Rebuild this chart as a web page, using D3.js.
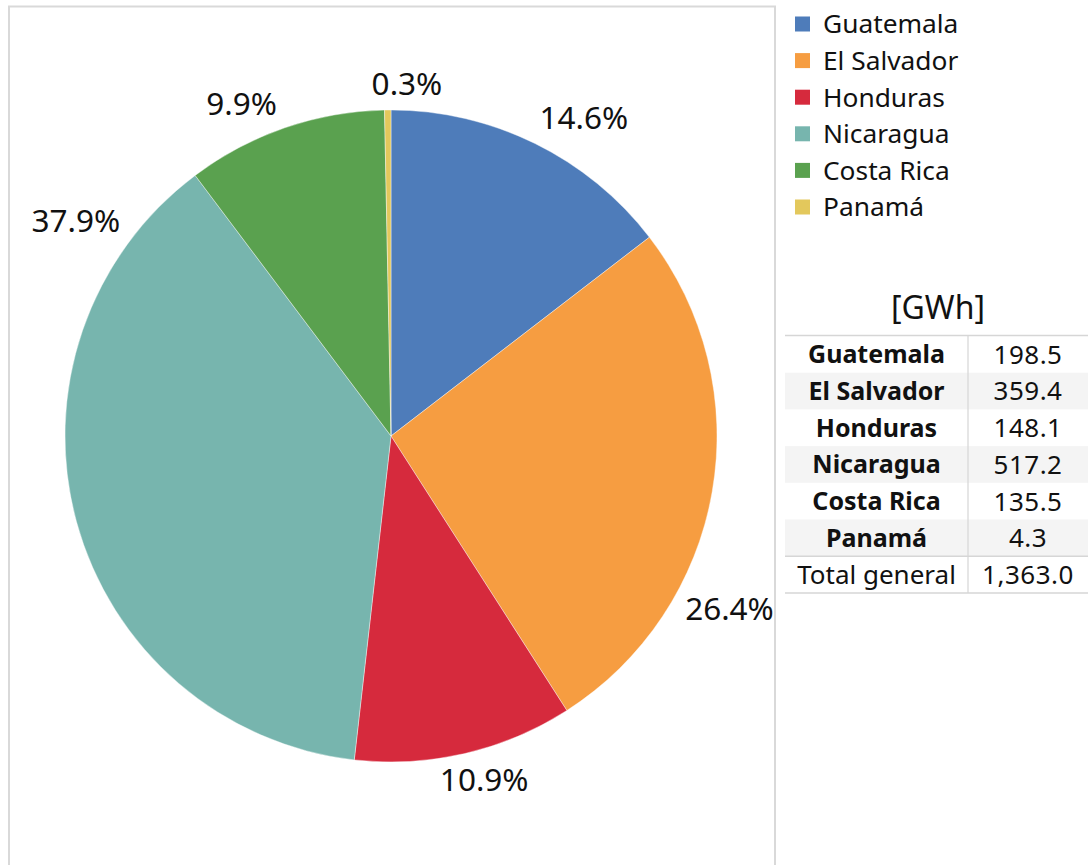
<!doctype html>
<html>
<head>
<meta charset="utf-8">
<style>
  body { margin: 0; background: #fff; }
  text { font-family: "Noto Sans", "Open Sans", sans-serif; fill: #111; }
</style>
</head>
<body>
<div id="container"></div>
<script src="https://d3js.org/d3.v7.min.js"></script>
<script type="text/javascript">

    var countries = ["Guatemala", "El Salvador", "Honduras", "Nicaragua", "Costa Rica", "Panamá"];
    var gwh = [198.5, 359.4, 148.1, 517.2, 135.5, 4.3];
    var colors = ["#4e7cba", "#f69d41", "#d62a3d", "#77b5ae", "#5aa14f", "#e3c85c"];
    // where inside each slice the percent label sits (0 = start, 1 = end)
    var labelFrac = [0.60, 0.685, 0.45, 0.86, 0.35, 3.3];
    var tableTitle = "[GWh]";
    var totalLabel = "Total general";

    var width = 1088, height = 865;
    var cx = 391, cy = 436, radius = 326;

    var svg = d3.select("#container").append("svg")
        .attr("width", width)
        .attr("height", height);

    // pane border
    svg.append("path")
        .attr("d", "M9," + height + "V6.5H775V" + height)
        .attr("fill", "none")
        .attr("stroke", "#d9d9d9")
        .attr("stroke-width", 2);

    var total = d3.sum(gwh);
    var data = countries.map(function (c, i) {
        return {name: c, value: gwh[i], color: colors[i], frac: labelFrac[i]};
    });

    var pie = d3.pie()
        .sort(null)
        .value(function (d) { return d.value; });

    var arc = d3.arc()
        .innerRadius(0)
        .outerRadius(radius);

    var g = svg.append("g")
        .attr("transform", "translate(" + cx + "," + cy + ")");

    var arcs = pie(data);

    g.selectAll(".slice")
        .data(arcs)
        .enter().append("path")
        .attr("class", "slice")
        .attr("d", arc)
        .attr("fill", function (d) { return d.data.color; })
        .attr("stroke", "#fff")
        .attr("stroke-width", 0.4);

    var pct = d3.format(".1%");
    var gap = 11, textH = 22;

    g.selectAll(".plabel")
        .data(arcs)
        .enter().append("text")
        .attr("class", "plabel")
        .attr("text-anchor", "middle")
        .attr("dy", "0.36em")
        .style("font-size", "31.5px")
        .text(function (d) { return pct(d.data.value / total); })
        .each(function (d) {
            var w = this.getComputedTextLength();
            var a = d.startAngle + d.data.frac * (d.endAngle - d.startAngle);
            var s = Math.sin(a), c = Math.cos(a);
            var r = radius + gap + w / 2 * Math.abs(s) + textH / 2 * Math.abs(c);
            d3.select(this)
                .attr("x", r * s)
                .attr("y", -r * c - 3);
        });

    // legend
    var legend = svg.append("g")
        .attr("transform", "translate(795,24)");
    var row = legend.selectAll(".lg")
        .data(data)
        .enter().append("g")
        .attr("class", "lg")
        .attr("transform", function (d, i) { return "translate(0," + (i * 36.6) + ")"; });
    row.append("rect")
        .attr("x", 0)
        .attr("y", -7.5)
        .attr("width", 15)
        .attr("height", 15)
        .attr("fill", function (d) { return d.color; });
    row.append("text")
        .attr("x", 28)
        .attr("dy", "0.36em")
        .style("font-size", "26.3px")
        .text(function (d) { return d.name; });

    // table
    var tx0 = 785, tx1 = 1088, tdiv = 968, ty0 = 336, rh = 36.7;
    var fmt = d3.format(",.1f");
    var tbl = svg.append("g");

    tbl.append("text")
        .attr("x", 938)
        .attr("y", 307)
        .attr("dy", "0.36em")
        .attr("text-anchor", "middle")
        .style("font-size", "32px")
        .text(tableTitle);

    var rows = data.map(function (d) { return {name: d.name, value: d.value, bold: true}; });
    rows.push({name: totalLabel, value: total, bold: false});

    tbl.selectAll(".shade")
        .data(rows.filter(function (d, i) { return i % 2 === 1 && d.bold; }))
        .enter().append("rect")
        .attr("class", "shade")
        .attr("x", tx0)
        .attr("y", function (d) { return ty0 + rows.indexOf(d) * rh; })
        .attr("width", tx1 - tx0)
        .attr("height", rh)
        .attr("fill", "#f4f4f4");

    tbl.append("line")
        .attr("x1", tx0).attr("x2", tx1)
        .attr("y1", ty0 - 0.5).attr("y2", ty0 - 0.5)
        .attr("stroke", "#d6d6d6").attr("stroke-width", 1.5);
    tbl.append("line")
        .attr("x1", tx0).attr("x2", tx1)
        .attr("y1", ty0 + 6 * rh).attr("y2", ty0 + 6 * rh)
        .attr("stroke", "#d6d6d6").attr("stroke-width", 1.5);
    tbl.append("line")
        .attr("x1", tx0).attr("x2", tx1)
        .attr("y1", ty0 + 7 * rh).attr("y2", ty0 + 7 * rh)
        .attr("stroke", "#d6d6d6").attr("stroke-width", 1.5);
    tbl.append("line")
        .attr("x1", tdiv).attr("x2", tdiv)
        .attr("y1", ty0).attr("y2", ty0 + 7 * rh)
        .attr("stroke", "#d6d6d6").attr("stroke-width", 1.2);

    var trow = tbl.selectAll(".trow")
        .data(rows)
        .enter().append("g")
        .attr("class", "trow")
        .attr("transform", function (d, i) { return "translate(0," + (ty0 + (i + 0.5) * rh) + ")"; });
    trow.append("text")
        .attr("x", (tx0 + tdiv) / 2)
        .attr("dy", "0.36em")
        .attr("text-anchor", "middle")
        .style("font-size", function (d) { return d.bold ? "25px" : "26px"; })
        .style("font-weight", function (d) { return d.bold ? "bold" : "normal"; })
        .text(function (d) { return d.name; });
    trow.append("text")
        .attr("x", (tdiv + tx1) / 2)
        .attr("dy", "0.36em")
        .attr("text-anchor", "middle")
        .style("font-size", "26px")
        .style("letter-spacing", "0.5px")
        .text(function (d) { return fmt(d.value); });

</script>
</body>
</html>
